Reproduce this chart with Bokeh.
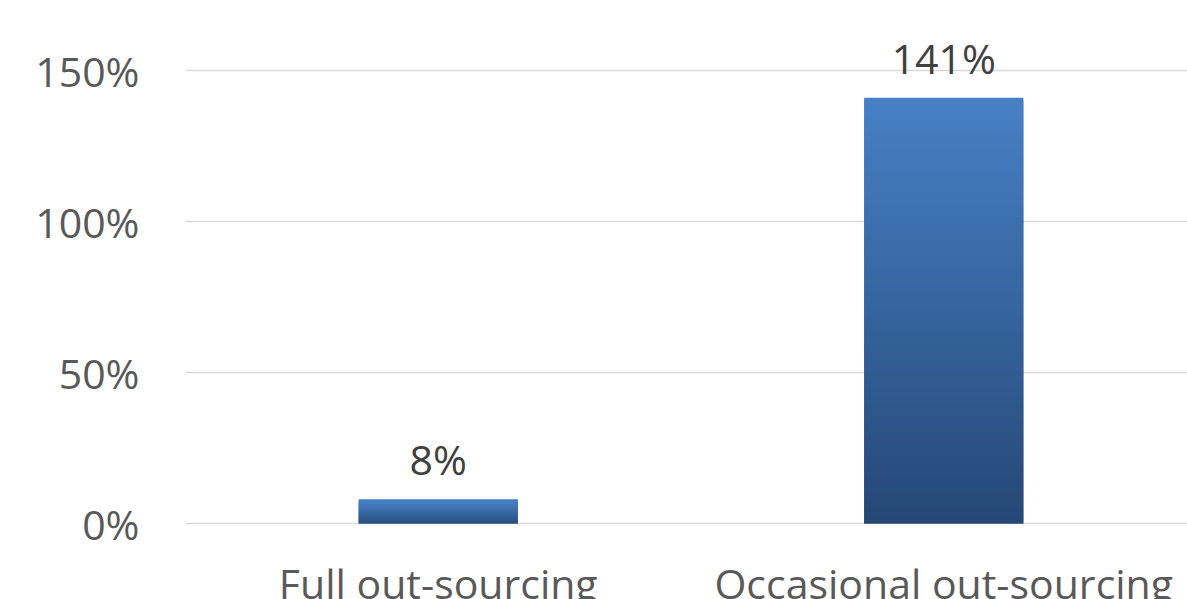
import math
from bokeh.plotting import figure
from bokeh.models import Range1d, FixedTicker, NumeralTickFormatter, ColumnDataSource
from bokeh.core.properties import value
from bokeh.embed import file_html
from bokeh.resources import INLINE

# ---- data ----
categories = ["Full out-sourcing", "Occasional out-sourcing"]
values = [0.08, 1.41]
value_labels = ["8%", "141%"]
y_ticks = [0, 0.5, 1.0, 1.5]

# ---- style / layout ----
FONT = "Open Sans"
W, H = 1187, 599
LEFT, TOP = 185, 20
ZERO_PX = 523          # screen y of the 0% line
CAT_PX = 505.5
BAR_W = 0.315
TOP_COLOR = (0x47, 0x80, 0xC5)
BOT_COLOR = (0x25, 0x47, 0x75)
SLICE_PX = 3.0
px_per_unit = 302.0
BASELINE_FIX = 18      # renderer places alphabetic baseline lower; compensate

x_end = (W - LEFT) / CAT_PX
y_start = -(H - ZERO_PX) / px_per_unit
y_end = (ZERO_PX - TOP) / px_per_unit

p = figure(width=W, height=H, output_backend="svg", toolbar_location=None,
           x_range=Range1d(0, x_end), y_range=Range1d(y_start, y_end),
           min_border_left=LEFT, min_border_right=0, min_border_top=TOP,
           min_border_bottom=0)
p.outline_line_color = None
p.background_fill_color = "white"
p.border_fill_color = "white"

p.xaxis.visible = False
p.xgrid.visible = False

ya = p.yaxis[0]
ya.ticker = FixedTicker(ticks=y_ticks)
ya.formatter = NumeralTickFormatter(format="0%")
ya.axis_line_color = None
ya.major_tick_line_color = None
ya.minor_tick_line_color = None
ya.major_label_text_font = FONT
ya.major_label_text_font_size = "41px"
ya.major_label_text_color = "#595959"
ya.major_label_standoff = 40
p.ygrid.ticker = FixedTicker(ticks=y_ticks)
p.ygrid.grid_line_color = "#d9d9d9"
p.ygrid.grid_line_width = 1.5

# gradient bars built from the values (overlapping slices to avoid seams)
xs, bottoms, tops, colors = [], [], [], []
for i, v in enumerate(values):
    n = max(2, int(math.ceil(v * px_per_unit / SLICE_PX)))
    for k in range(n):
        t = (k + 0.5) / n  # 0 bottom -> 1 top
        c = tuple(int(round(BOT_COLOR[j] + (TOP_COLOR[j] - BOT_COLOR[j]) * t)) for j in range(3))
        xs.append(i + 0.5)
        bottoms.append(max(0.0, v * (k - 1) / n))
        tops.append(v * (k + 1) / n)
        colors.append("#%02x%02x%02x" % c)
src = ColumnDataSource(dict(x=xs, bottom=bottoms, top=tops, color=colors))
p.vbar(x="x", bottom="bottom", top="top", width=BAR_W, fill_color="color",
       line_color=None, source=src)

# value labels
gap = (22 + BASELINE_FIX) / px_per_unit
lsrc = ColumnDataSource(dict(x=[i + 0.5 for i in range(len(values))],
                             y=[v + gap for v in values], t=value_labels))
p.text(x="x", y="y", text="t", source=lsrc, text_align="center", text_baseline="alphabetic",
       text_font=value(FONT), text_font_size="41px", text_color="#404040")

# category labels (below the 0% line, cut by the canvas edge like the reference)
cy = -(77.5 - BASELINE_FIX) / px_per_unit
csrc = ColumnDataSource(dict(x=[i + 0.5 for i in range(len(categories))],
                             y=[cy] * len(categories), t=categories))
p.text(x="x", y="y", text="t", source=csrc, text_align="center", text_baseline="alphabetic",
       text_font=value(FONT), text_font_size="41px", text_color="#595959")

open("out.html", "w").write(file_html(p, INLINE))
